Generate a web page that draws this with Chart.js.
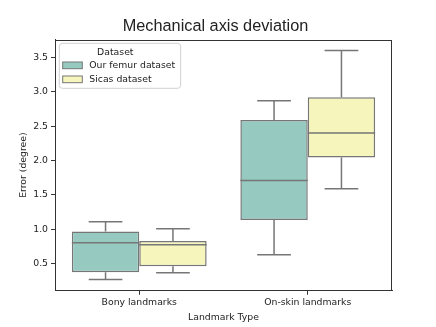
<!DOCTYPE html>
<html>
<head>
<meta charset="utf-8">
<script src="https://cdn.jsdelivr.net/npm/chart.js@4/dist/chart.umd.min.js"></script>
<style>
  html, body { margin: 0; padding: 0; background: #fff; }
  canvas { display: block; }
</style>
</head>
<body>
<canvas id="c" width="436" height="327"></canvas>
<script>
// ---- Data ----
const categories = ['Bony landmarks', 'On-skin landmarks'];
const seriesNames = ['Our femur dataset', 'Sicas dataset'];

const femurMin    = [0.27, 0.63];
const femurQ1     = [0.375, 1.135];
const femurMedian = [0.805, 1.71];
const femurQ3     = [0.97, 2.59];
const femurMax    = [1.11, 2.87];

const sicasMin    = [0.37, 1.59];
const sicasQ1     = [0.465, 2.045];
const sicasMedian = [0.775, 2.40];
const sicasQ3     = [0.83, 2.92];
const sicasMax    = [1.01, 3.60];

const yTicks = [0.5, 1.0, 1.5, 2.0, 2.5, 3.0, 3.5];
const yMin = 0.108;
const yMax = 3.76;

const titleText = 'Mechanical axis deviation';
const xTitle = 'Landmark Type';
const yTitle = 'Error (degree)';
const legendTitle = 'Dataset';

// ---- Styles ----
const colors = ['#96cac1', '#f6f6bc'];
const lineColor = '#767676';
const axisColor = '#333333';
const textFont = 'DejaVu Sans';

const stats = [
  { min: femurMin, q1: femurQ1, med: femurMedian, q3: femurQ3, max: femurMax },
  { min: sicasMin, q1: sicasQ1, med: sicasMedian, q3: sicasQ3, max: sicasMax }
];

const datasets = stats.map((s, i) => ({
  label: seriesNames[i],
  data: categories.map((_, j) => [s.q1[j], s.q3[j]]),
  backgroundColor: colors[i],
  borderColor: lineColor,
  borderWidth: 1.5,
  borderSkipped: false,
  categoryPercentage: 0.8,
  barPercentage: 1.0
}));

const boxPlugin = {
  id: 'boxWhiskers',
  afterDatasetsDraw(chart) {
    const ctx = chart.ctx;
    const y = chart.scales.y;
    ctx.save();
    ctx.strokeStyle = lineColor;
    ctx.lineWidth = 1.5;
    stats.forEach((s, i) => {
      const meta = chart.getDatasetMeta(i);
      meta.data.forEach((bar, j) => {
        const cx = bar.x;
        const w = bar.width;
        const yMed = y.getPixelForValue(s.med[j]);
        const yQ1 = y.getPixelForValue(s.q1[j]);
        const yQ3 = y.getPixelForValue(s.q3[j]);
        const yLo = y.getPixelForValue(s.min[j]);
        const yHi = y.getPixelForValue(s.max[j]);
        ctx.beginPath();
        ctx.moveTo(cx - w / 2, yMed); ctx.lineTo(cx + w / 2, yMed);
        ctx.moveTo(cx, yQ3); ctx.lineTo(cx, yHi);
        ctx.moveTo(cx, yQ1); ctx.lineTo(cx, yLo);
        ctx.moveTo(cx - w / 4, yHi); ctx.lineTo(cx + w / 4, yHi);
        ctx.moveTo(cx - w / 4, yLo); ctx.lineTo(cx + w / 4, yLo);
        ctx.stroke();
      });
    });
    ctx.restore();
  },
  afterDraw(chart) {
    const ctx = chart.ctx;
    const a = chart.chartArea;
    ctx.save();
    // title
    ctx.fillStyle = '#222';
    ctx.font = '16.3px "Liberation Sans"';
    ctx.textAlign = 'center';
    ctx.textBaseline = 'middle';
    ctx.fillText(titleText, chart.width / 2 - 2.5, 26.5);
    // frame
    ctx.strokeStyle = axisColor;
    ctx.lineWidth = 1;
    ctx.strokeRect(Math.round(a.left) + 0.5, Math.round(a.top) + 0.5,
                   Math.round(a.right - a.left) - 1, Math.round(a.bottom - a.top) - 1);
    // legend
    const lx = a.left + 4.3, ly = a.top + 3.8, lw = 121.4, lh = 45;
    ctx.beginPath();
    if (ctx.roundRect) ctx.roundRect(lx, ly, lw, lh, 3); else ctx.rect(lx, ly, lw, lh);
    ctx.fillStyle = 'rgba(255,255,255,0.85)';
    ctx.fill();
    ctx.strokeStyle = '#d0d0d0';
    ctx.lineWidth = 1;
    ctx.stroke();
    ctx.fillStyle = '#222';
    ctx.font = '9.3px "' + textFont + '"';
    ctx.textBaseline = 'middle';
    ctx.textAlign = 'center';
    ctx.fillText(legendTitle, lx + 56, ly + 9);
    ctx.textAlign = 'left';
    seriesNames.forEach((name, i) => {
      const ry = ly + 18.7 + i * 14;
      ctx.fillStyle = colors[i];
      ctx.fillRect(lx + 3.4, ry, 19.6, 6.7);
      ctx.strokeStyle = lineColor;
      ctx.lineWidth = 1;
      ctx.strokeRect(lx + 3.4, ry, 19.6, 6.7);
      ctx.fillStyle = '#222';
      ctx.fillText(name, lx + 30, ry + 3.6);
    });
    ctx.restore();
  }
};

new Chart(document.getElementById('c'), {
  type: 'bar',
  data: { labels: categories, datasets },
  options: {
    responsive: false,
    devicePixelRatio: 1,
    animation: false,
    layout: { padding: { left: 0, right: 44, top: 39.5, bottom: 0 } },
    plugins: {
      title: { display: false },
      legend: { display: false },
      tooltip: { enabled: false }
    },
    scales: {
      x: {
        type: 'category',
        grid: { display: true, offset: false, drawOnChartArea: false, drawTicks: true, tickLength: 4, color: axisColor },
        border: { display: true, color: axisColor, width: 1 },
        ticks: { color: '#222', font: { family: textFont, size: 9.3 }, padding: 2 },
        title: { display: true, text: xTitle, color: '#222',
                 font: { family: textFont, size: 9.3 }, padding: { top: 0, bottom: 3.5 } },
        afterFit(s) { s.height = 36.3; }
      },
      y: {
        min: yMin,
        max: yMax,
        afterBuildTicks(s) { s.ticks = yTicks.map(v => ({ value: v })); },
        grid: { display: true, drawOnChartArea: false, drawTicks: true, tickLength: 4, color: axisColor },
        border: { display: true, color: axisColor, width: 1 },
        ticks: { color: '#222', font: { family: textFont, size: 9.3 }, padding: 3,
                 callback: v => Number(v).toFixed(1) },
        title: { display: true, text: yTitle, color: '#222',
                 font: { family: textFont, size: 9.3 }, padding: { top: 18.5, bottom: 0 } },
        afterFit(s) { s.width = 55; }
      }
    }
  },
  plugins: [boxPlugin]
});
</script>
</body>
</html>
